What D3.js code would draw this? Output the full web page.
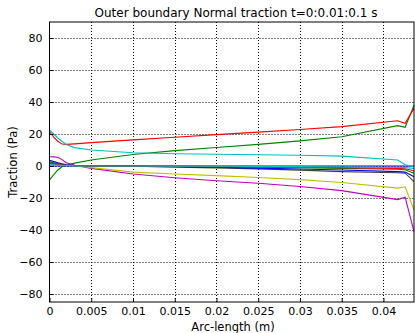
<!DOCTYPE html>
<html>
<head>
<meta charset="utf-8">
<script src="https://cdn.jsdelivr.net/npm/d3@7"></script>
<style>
  body { margin: 0; background: #fff; }
  svg { display: block; font-family: "DejaVu Sans", sans-serif; }
</style>
</head>
<body>
<div id="chart"></div>
<script>
// arc-length sample points (m)
var arcLength = [0, 0.0005, 0.001, 0.0015, 0.002, 0.003, 0.005, 0.01, 0.015, 0.02, 0.025, 0.03, 0.035, 0.0417, 0.0426, 0.04366];

// traction per time step t = 0:0.01:0.1 (Pa)
var t000 = [0, 0, 0, 0, 0, 0, 0, 0, 0, 0, 0, 0, 0, 0, 0, 0];
var t001 = [-8.7, -5.5, -2.5, -0.5, 0.6, 1.8, 3.8, 7.2, 9.6, 11.6, 13.5, 15.7, 18.3, 25.2, 24.2, 38];
var t002 = [21.4, 18, 15.5, 13.7, 13.5, 13.8, 14.6, 16.3, 18.0, 19.6, 21.2, 22.8, 24.6, 28.3, 26.7, 36];
var t003 = [22.5, 20, 17.5, 15.5, 13.5, 11.5, 10.0, 8.3, 7.7, 7.3, 7.0, 6.7, 6.2, 3.8, 0.8, -0.4];
var t004 = [5.8, 5.7, 5.5, 4.0, 2.0, 0.5, -1.5, -5.0, -7.3, -9.2, -10.8, -12.8, -15.4, -21, -19.5, -41];
var t005 = [3, 2.5, 2, 1.5, 1.0, 0.3, -1.0, -3.8, -5.0, -6.0, -7.2, -8.5, -10.3, -13.8, -13, -27.5];
var t006 = [2.5, 2.0, 1.5, 1.0, 0.5, 0.2, 0, -0.2, -0.7, -1.2, -1.8, -2.6, -3.5, -4.2, -4.5, -9.8];
var t007 = [3.5, 2.8, 2.0, 1.3, 0.8, 0.5, 0.2, 0, -0.3, -0.8, -1.3, -1.9, -2.5, -3.5, -3.8, -6.7];
var t008 = [2.0, 1.6, 1.2, 0.8, 0.5, 0.3, 0.1, 0, -0.2, -0.5, -0.8, -1.1, -1.5, -2.0, -2.3, -4.6];
var t009 = [1.5, 1.2, 0.9, 0.6, 0.4, 0.2, 0.1, 0, -0.1, -0.3, -0.5, -0.7, -1.0, -1.5, -1.7, -3.0];
var t010 = [1.0, 0.8, 0.6, 0.4, 0.3, 0.1, 0, 0, -0.1, -0.2, -0.3, -0.4, -0.6, -0.9, -1.0, -1.5];
var seriesList = [t000, t001, t002, t003, t004, t005, t006, t007, t008, t009, t010];

// MATLAB default line colour order
var lineColors = ["#0000ff", "#008000", "#ff0000", "#00bfbf", "#bf00bf", "#bfbf00", "#404040"];

var xTicks = [0, 0.005, 0.01, 0.015, 0.02, 0.025, 0.03, 0.035, 0.04];
var yTicks = [-80, -60, -40, -20, 0, 20, 40, 60, 80];

var W = 415, H = 333;
var plotL = 49.5, plotR = 414, plotT = 22, plotB = 302;

var svg = d3.select("#chart").append("svg")
  .attr("width", W)
  .attr("height", H);

var x = d3.scaleLinear().domain([0, 0.04366]).range([plotL, plotR]);
var y = d3.scaleLinear().domain([-85, 90]).range([plotB, plotT]);

// grid
var grid = svg.append("g")
  .attr("stroke", "#000")
  .attr("stroke-width", 1)
  .attr("stroke-dasharray", "1,2");
grid.selectAll(".vg").data(xTicks.slice(1)).enter().append("line")
  .attr("x1", function (d) { return Math.round(x(d)) + 0.5; })
  .attr("x2", function (d) { return Math.round(x(d)) + 0.5; })
  .attr("y1", plotT)
  .attr("y2", plotB);
grid.selectAll(".hg").data(yTicks).enter().append("line")
  .attr("x1", plotL)
  .attr("x2", plotR)
  .attr("y1", function (d) { return Math.round(y(d)) + 0.5; })
  .attr("y2", function (d) { return Math.round(y(d)) + 0.5; });

// lines
var line = d3.line()
  .x(function (d, i) { return x(arcLength[i]); })
  .y(function (d) { return y(d); });

svg.append("g")
  .selectAll("path")
  .data(seriesList)
  .enter()
  .append("path")
  .attr("d", line)
  .attr("fill", "none")
  .attr("stroke", function (d, i) { return lineColors[i % lineColors.length]; })
  .attr("stroke-width", 1.1);

// axes (ticks inward)
svg.append("g")
  .attr("transform", "translate(0," + plotB + ")")
  .call(d3.axisBottom(x).tickValues(xTicks).tickSize(-4).tickPadding(5)
    .tickFormat(function (d) { return d === 0 ? "0" : String(+d.toFixed(3)); }))
  .call(function (g) {
    g.select(".domain").remove();
    g.selectAll("text").attr("font-size", 11).attr("fill", "#000").attr("font-family", "DejaVu Sans, sans-serif");
  });

svg.append("g")
  .attr("transform", "translate(" + plotL + ",0)")
  .call(d3.axisLeft(y).tickValues(yTicks).tickSize(-4).tickPadding(7))
  .call(function (g) {
    g.select(".domain").remove();
    g.selectAll("text").attr("font-size", 11).attr("fill", "#000").attr("font-family", "DejaVu Sans, sans-serif");
  });

// box
svg.append("rect")
  .attr("x", plotL)
  .attr("y", plotT)
  .attr("width", plotR - plotL)
  .attr("height", plotB - plotT)
  .attr("fill", "none")
  .attr("stroke", "#000")
  .attr("stroke-width", 1);

// labels
svg.append("text")
  .attr("x", 236)
  .attr("y", 17)
  .attr("text-anchor", "middle")
  .attr("font-size", 12)
  .text("Outer boundary Normal traction t=0:0.01:0.1 s");

svg.append("text")
  .attr("x", 233)
  .attr("y", 331)
  .attr("text-anchor", "middle")
  .attr("font-size", 11.5)
  .text("Arc-length (m)");

svg.append("text")
  .attr("transform", "translate(17," + (plotT + plotB) / 2 + ") rotate(-90)")
  .attr("text-anchor", "middle")
  .attr("font-size", 11.5)
  .text("Traction (Pa)");
</script>
</body>
</html>
